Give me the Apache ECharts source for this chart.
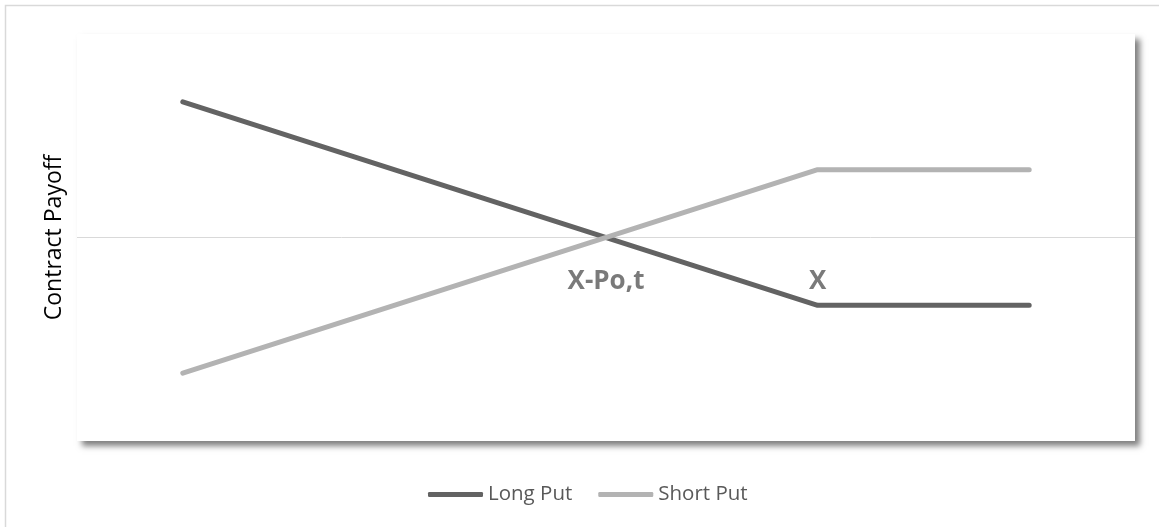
<!DOCTYPE html>
<html>
<head>
<meta charset="utf-8">
<script src="https://cdn.jsdelivr.net/npm/echarts@6/dist/echarts.min.js"></script>
<style>
  html, body { margin: 0; padding: 0; background: #fff; }
  #chart { width: 1159px; height: 527px; }
</style>
</head>
<body>
<div id="chart"></div>
<script>
// price points (x) and payoffs
const prices = [1, 7, 9]
const longPut = [4, -2, -2]
const shortPut = [-4, 2, 2]
// text annotations on the chart: [x, y, text]
const notes = [[5, -1.3, 'X-Po,t'], [7, -1.3, 'X']]

const chart = echarts.init(document.getElementById('chart'))

let option = {
  animation: false,
  graphic: [{
    type: 'rect',
    shape: { x: 5.5, y: 5.5, width: 1170, height: 540 },
    style: { fill: 'none', stroke: '#d9d9d9', lineWidth: 1.5 },
    silent: true
  }],
  legend: {
    top: 484,
    left: 428,
    padding: 0,
    itemWidth: 55,
    itemHeight: 5,
    itemGap: 26,
    icon: 'roundRect',
    textStyle: { fontFamily: 'Open Sans', fontSize: 20.5, color: '#595959' },
    data: ['Long Put', 'Short Put']
  },
  grid: {
    show: true,
    left: 77,
    right: 24,
    top: 34,
    bottom: 86,
    backgroundColor: '#fff',
    borderWidth: 0,
    shadowColor: 'rgba(0,0,0,0.5)',
    shadowBlur: 6,
    shadowOffsetX: 5,
    shadowOffsetY: 5
  },
  xAxis: {
    type: 'value',
    min: 0,
    max: 10,
    axisLine: { show: false },
    axisTick: { show: false },
    axisLabel: { show: false },
    splitLine: { show: false }
  },
  yAxis: {
    type: 'value',
    min: -6,
    max: 6,
    name: 'Contract Payoff',
    nameLocation: 'middle',
    nameGap: 11,
    nameTextStyle: { fontFamily: 'Open Sans', fontSize: 23, color: '#000' },
    axisLine: { show: true, onZero: false, lineStyle: { color: 'transparent' } },
    axisTick: { show: false },
    axisLabel: { show: false },
    splitLine: { show: false }
  },
  series: [
    {
      name: 'Long Put',
      type: 'line',
      data: prices.map((x, i) => [x, longPut[i]]),
      symbol: 'none',
      color: '#636363',
      lineStyle: { width: 5, cap: 'round', join: 'round' },
      z: 3
    },
    {
      name: 'Short Put',
      type: 'line',
      data: prices.map((x, i) => [x, shortPut[i]]),
      symbol: 'none',
      color: '#b3b3b3',
      lineStyle: { width: 5, cap: 'round', join: 'round' },
      z: 4,
      markLine: {
        silent: true,
        symbol: 'none',
        label: { show: false },
        lineStyle: { color: '#d9d9d9', width: 1, type: 'solid' },
        data: [{ yAxis: 0 }],
        z: 1
      }
    },
    {
      name: 'notes',
      type: 'scatter',
      data: notes.map(n => ({ value: [n[0], n[1]], name: n[2] })),
      symbolSize: 0,
      silent: true,
      label: {
        show: true,
        position: 'inside',
        formatter: p => p.name,
        fontFamily: 'Open Sans',
        fontWeight: 'bold',
        fontSize: 26,
        color: '#595959'
      }
    }
  ]
}

chart.setOption(option)
</script>
</body>
</html>
